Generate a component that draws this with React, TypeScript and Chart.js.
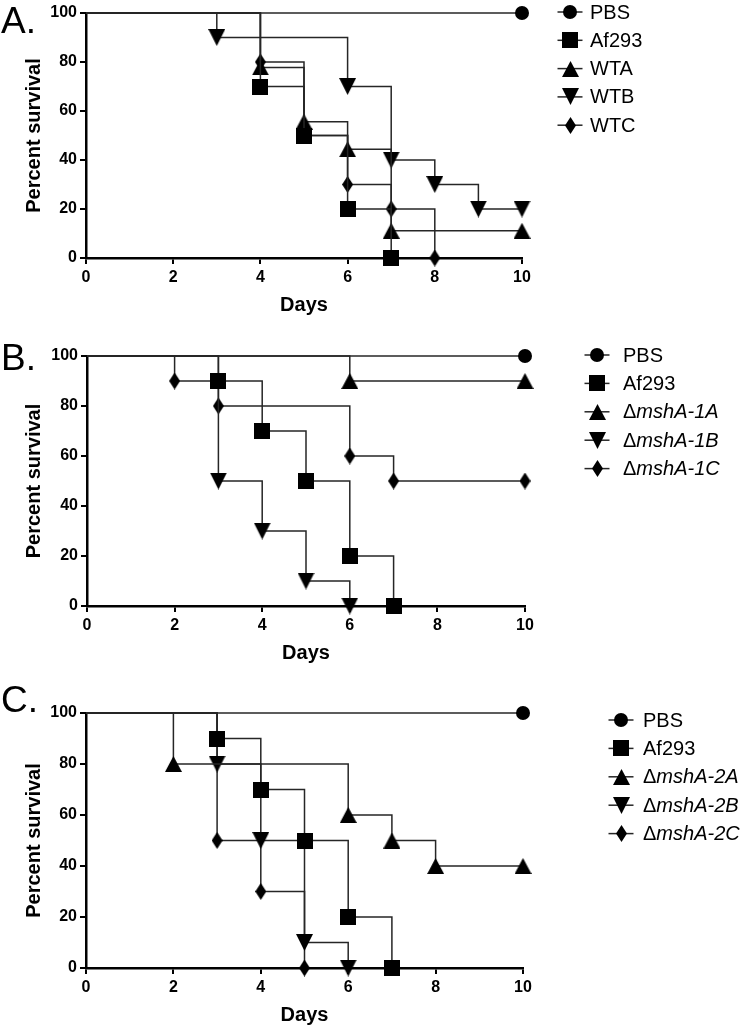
import React, { useEffect, useRef } from "react";
import { Chart, registerables } from "chart.js";

Chart.register(...registerables);

// ---------- Data ----------
const dayTicks = [0, 2, 4, 6, 8, 10];
const survivalTicks = [0, 20, 40, 60, 80, 100];

// Panel A
const A_labels = ["PBS", "Af293", "WTA", "WTB", "WTC"];
const A_PBS_days = [0, 10];
const A_PBS_surv = [100, 100];
const A_Af293_days = [0, 4, 5, 6, 7];
const A_Af293_surv = [100, 70, 50, 20, 0];
const A_WTA_days = [0, 4, 5, 6, 7, 10];
const A_WTA_surv = [100, 77.8, 55.6, 44.4, 11.1, 11.1];
const A_WTB_days = [0, 3, 6, 7, 8, 9, 10];
const A_WTB_surv = [100, 90, 70, 40, 30, 20, 20];
const A_WTC_days = [0, 4, 5, 6, 7, 8];
const A_WTC_surv = [100, 80, 50, 30, 20, 0];

// Panel B
const B_labels = ["PBS", "Af293", "ΔmshA-1A", "ΔmshA-1B", "ΔmshA-1C"];
const B_PBS_days = [0, 10];
const B_PBS_surv = [100, 100];
const B_Af293_days = [0, 3, 4, 5, 6, 7];
const B_Af293_surv = [100, 90, 70, 50, 20, 0];
const B_1A_days = [0, 6, 10];
const B_1A_surv = [100, 90, 90];
const B_1B_days = [0, 3, 4, 5, 6];
const B_1B_surv = [100, 50, 30, 10, 0];
const B_1C_days = [0, 2, 3, 6, 7, 10];
const B_1C_surv = [100, 90, 80, 60, 50, 50];

// Panel C
const C_labels = ["PBS", "Af293", "ΔmshA-2A", "ΔmshA-2B", "ΔmshA-2C"];
const C_PBS_days = [0, 10];
const C_PBS_surv = [100, 100];
const C_Af293_days = [0, 3, 4, 5, 6, 7];
const C_Af293_surv = [100, 90, 70, 50, 20, 0];
const C_2A_days = [0, 2, 6, 7, 8, 10];
const C_2A_surv = [100, 80, 60, 50, 40, 40];
const C_2B_days = [0, 3, 4, 5, 6];
const C_2B_surv = [100, 80, 50, 10, 0];
const C_2C_days = [0, 3, 4, 5];
const C_2C_surv = [100, 50, 30, 0];

const shapes = ["circle", "square", "up", "down", "diamond"];

const FONT = "'Liberation Sans', Arial, Helvetica, sans-serif";
const LINE_COLOR = "#262626";

// ---------- Marker images ----------
function makeMarker(shape: string): HTMLCanvasElement {
  const c = document.createElement("canvas");
  let w = 16,
    h = 16;
  if (shape === "circle") { w = 14; h = 14; }
  else if (shape === "square") { w = 16; h = 16; }
  else if (shape === "up") { w = 17; h = 16; }
  else if (shape === "down") { w = 17; h = 17; }
  else if (shape === "diamond") { w = 11; h = 17; }
  c.width = w;
  c.height = h;
  const ctx = c.getContext("2d")!;
  ctx.fillStyle = "#000";
  ctx.beginPath();
  if (shape === "circle") ctx.arc(w / 2, h / 2, w / 2, 0, Math.PI * 2);
  else if (shape === "square") ctx.rect(0, 0, w, h);
  else if (shape === "up") { ctx.moveTo(w / 2, 0); ctx.lineTo(w, h); ctx.lineTo(0, h); ctx.closePath(); }
  else if (shape === "down") { ctx.moveTo(0, 0); ctx.lineTo(w, 0); ctx.lineTo(w / 2, h); ctx.closePath(); }
  else { ctx.moveTo(w / 2, 0); ctx.lineTo(w, h / 2); ctx.lineTo(w / 2, h); ctx.lineTo(0, h / 2); ctx.closePath(); }
  ctx.fill();
  return c;
}

// ---------- Overlay plugin: legend + panel letter ----------
const overlayPlugin = {
  id: "overlay",
  afterDraw(chart: any, _args: any, opts: any) {
    const ctx = chart.ctx as CanvasRenderingContext2D;
    ctx.save();
    // panel letter
    ctx.fillStyle = "#000";
    ctx.font = `37px ${FONT}`;
    ctx.textAlign = "left";
    ctx.textBaseline = "alphabetic";
    ctx.fillText(opts.letter, 1, opts.letterBaseline);
    // legend
    chart.data.datasets.forEach((ds: any, i: number) => {
      const y = opts.legendY0 + i * opts.legendStep;
      const cx = opts.legendX;
      ctx.strokeStyle = LINE_COLOR;
      ctx.lineWidth = 1.5;
      ctx.beginPath();
      ctx.moveTo(cx - 12.5, y);
      ctx.lineTo(cx + 12.5, y);
      ctx.stroke();
      const img = ds.pointStyle as HTMLCanvasElement;
      ctx.drawImage(img, Math.round(cx - img.width / 2), Math.round(y - img.height / 2));
      ctx.fillStyle = "#000";
      ctx.textBaseline = "middle";
      let tx = opts.textX;
      const label: string = ds.label;
      if (label.startsWith("Δ")) {
        ctx.font = `20px ${FONT}`;
        ctx.fillText("Δ", tx, y + 1);
        tx += ctx.measureText("Δ").width;
        ctx.font = `italic 20px ${FONT}`;
        ctx.fillText(label.slice(1), tx, y + 1);
      } else {
        ctx.font = `20px ${FONT}`;
        ctx.fillText(label, tx, y + 1);
      }
    });
    ctx.restore();
  },
};

type Series = { label: string; days: number[]; surv: number[] };

type PanelSpec = {
  letter: string;
  letterBaseline: number;
  T: number;
  Hc: number;
  top: number;
  bottom: number;
  left: number;
  right: number;
  legendX: number;
  textX: number;
  legendY0: number;
  legendStep: number;
  series: Series[];
};

const panels: PanelSpec[] = [
  {
    letter: "A.", letterBaseline: 33, T: 0, Hc: 325, top: 13, bottom: 258, left: 86, right: 522,
    legendX: 570, textX: 590, legendY0: 12, legendStep: 28.3,
    series: [
      { label: A_labels[0], days: A_PBS_days, surv: A_PBS_surv },
      { label: A_labels[1], days: A_Af293_days, surv: A_Af293_surv },
      { label: A_labels[2], days: A_WTA_days, surv: A_WTA_surv },
      { label: A_labels[3], days: A_WTB_days, surv: A_WTB_surv },
      { label: A_labels[4], days: A_WTC_days, surv: A_WTC_surv },
    ],
  },
  {
    letter: "B.", letterBaseline: 370, T: 330, Hc: 345, top: 356, bottom: 606, left: 87, right: 525,
    legendX: 597, textX: 623, legendY0: 355, legendStep: 28.4,
    series: [
      { label: B_labels[0], days: B_PBS_days, surv: B_PBS_surv },
      { label: B_labels[1], days: B_Af293_days, surv: B_Af293_surv },
      { label: B_labels[2], days: B_1A_days, surv: B_1A_surv },
      { label: B_labels[3], days: B_1B_days, surv: B_1B_surv },
      { label: B_labels[4], days: B_1C_days, surv: B_1C_surv },
    ],
  },
  {
    letter: "C.", letterBaseline: 712, T: 680, Hc: 350, top: 713, bottom: 968, left: 86, right: 523,
    legendX: 621, textX: 643, legendY0: 720, legendStep: 28.4,
    series: [
      { label: C_labels[0], days: C_PBS_days, surv: C_PBS_surv },
      { label: C_labels[1], days: C_Af293_days, surv: C_Af293_surv },
      { label: C_labels[2], days: C_2A_days, surv: C_2A_surv },
      { label: C_labels[3], days: C_2B_days, surv: C_2B_surv },
      { label: C_labels[4], days: C_2C_days, surv: C_2C_surv },
    ],
  },
];

function Panel({ spec }: { spec: PanelSpec }) {
  const ref = useRef<HTMLCanvasElement | null>(null);
  useEffect(() => {
    if (!ref.current) return;
    const markers = shapes.map(makeMarker);
    const xScaleHeight = spec.T + spec.Hc - spec.bottom;
    const titleCenterBelow = 47; // Days title center below axis
    const xTitlePad = spec.T + spec.Hc - (spec.bottom + titleCenterBelow) - 12;
    const chart = new Chart(ref.current, {
      type: "line",
      data: {
        datasets: spec.series.map((s, i) => ({
          label: s.label,
          data: s.days.map((d, j) => ({ x: d, y: s.surv[j] })),
          stepped: true,
          borderColor: LINE_COLOR,
          borderWidth: 1.5,
          fill: false,
          pointStyle: markers[i],
          pointRadius: s.days.map((_, j) => (j === 0 ? 0 : 8)),
          pointHoverRadius: s.days.map((_, j) => (j === 0 ? 0 : 8)),
          clip: false,
        })),
      },
      options: {
        animation: false,
        responsive: false,
        maintainAspectRatio: false,
        events: [],
        layout: {
          padding: { top: spec.top - spec.T, right: 750 - spec.right, left: 0, bottom: 0 },
        },
        plugins: {
          legend: { display: false },
          tooltip: { enabled: false },
          overlay: {
            letter: spec.letter,
            letterBaseline: spec.letterBaseline - spec.T,
            legendX: spec.legendX,
            textX: spec.textX,
            legendY0: spec.legendY0 - spec.T,
            legendStep: spec.legendStep,
          },
        } as any,
        scales: {
          x: {
            type: "linear",
            min: dayTicks[0],
            max: dayTicks[dayTicks.length - 1],
            afterFit: (s: any) => { s.height = xScaleHeight; },
            afterBuildTicks: (s: any) => { s.ticks = dayTicks.map((v) => ({ value: v })); },
            ticks: {
              color: "#000",
              padding: 4,
              font: { family: FONT, size: 16, weight: "bold" },
            },
            grid: { display: true, drawOnChartArea: false, drawTicks: true, tickLength: 6, color: "#000", lineWidth: 2 },
            border: { display: true, color: "#000", width: 2.5 },
            title: {
              display: true,
              text: "Days",
              color: "#000",
              font: { family: FONT, size: 20, weight: "bold" },
              padding: { top: 0, bottom: xTitlePad },
            },
          },
          y: {
            type: "linear",
            min: survivalTicks[0],
            max: survivalTicks[survivalTicks.length - 1],
            afterFit: (s: any) => { s.width = spec.left; },
            afterBuildTicks: (s: any) => { s.ticks = survivalTicks.map((v) => ({ value: v })); },
            ticks: {
              color: "#000",
              padding: 3,
              font: { family: FONT, size: 16, weight: "bold" },
            },
            grid: { display: true, drawOnChartArea: false, drawTicks: true, tickLength: 6, color: "#000", lineWidth: 2 },
            border: { display: true, color: "#000", width: 2.5 },
            title: {
              display: true,
              text: "Percent survival",
              color: "#000",
              font: { family: FONT, size: 20, weight: "bold" },
              padding: { top: 22, bottom: 0 },
            },
          },
        },
      },
      plugins: [overlayPlugin],
    } as any);
    return () => chart.destroy();
  }, [spec]);
  return (
    <canvas
      ref={ref}
      width={750}
      height={spec.Hc}
      style={{ position: "absolute", left: 0, top: spec.T, width: 750, height: spec.Hc, display: "block" }}
    />
  );
}

export default function App() {
  return (
    <div style={{ position: "absolute", left: 0, top: 0, width: 750, height: 1030, background: "#fff", overflow: "hidden" }}>
      {panels.map((p) => (
        <Panel key={p.letter} spec={p} />
      ))}
    </div>
  );
}
